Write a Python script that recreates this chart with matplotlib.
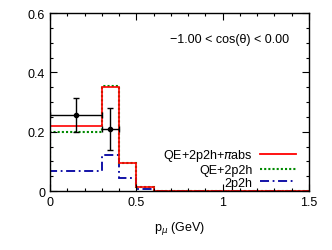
import matplotlib
matplotlib.use("Agg")
import matplotlib.pyplot as plt
from matplotlib.ticker import MultipleLocator
from matplotlib.lines import Line2D

edges = [0.0, 0.3, 0.4, 0.5, 0.6, 1.5]
qe_2p2h_piabs = [0.218, 0.350, 0.093, 0.012, 0.0]
qe_2p2h = [0.198, 0.354, 0.095, 0.013, 0.0]
only_2p2h = [0.068, 0.121, 0.044, 0.006, 0.0]

data_x = [0.15, 0.35]
data_y = [0.257, 0.209]
data_xerr = [0.15, 0.05]
data_yerr = [0.058, 0.070]

plt.rcParams['font.family'] = ['Liberation Sans', 'DejaVu Sans']
fig = plt.figure(figsize=(3.32, 2.51), dpi=100)
ax = fig.add_axes([0.1506, 0.235, 0.780, 0.709])

red, green, blue = '#ff0000', '#008a00', '#0000a0'
dashdot = (0, (5, 2, 1, 2))

ax.stairs(only_2p2h, edges, color=blue, lw=1.3, ls=dashdot)
ax.stairs(qe_2p2h, edges, color=green, lw=1.5, ls=(0, (1, 1)))
ax.stairs(qe_2p2h_piabs, edges, color=red, lw=1.2)
ax.errorbar(data_x, data_y, xerr=data_xerr, yerr=data_yerr, fmt='o', color='black',
            ms=3, lw=1.0, capsize=2, capthick=1.0, zorder=5)

ax.set_xlim(0, 1.5)
ax.set_ylim(0, 0.6)
ax.xaxis.set_minor_locator(MultipleLocator(0.1))
ax.yaxis.set_minor_locator(MultipleLocator(0.05))
ax.set_xticks([0, 0.5, 1, 1.5])
ax.set_xticklabels(['0', '0.5', '1', '1.5'])
ax.set_yticks([0, 0.2, 0.4, 0.6])
ax.set_yticklabels(['0', '0.2', '0.4', '0.6'])
ax.tick_params(which='both', direction='in', top=True, right=True, labelsize=9)
ax.tick_params(which='major', length=5, width=0.8)
ax.tick_params(which='minor', length=2.5, width=0.8)
for s in ax.spines.values():
    s.set_linewidth(1.0)

ax.set_xlabel(r'p$_{\mu}$ (GeV)', fontsize=9, labelpad=8)
ax.text(0.923, 0.854, '\u22121.00 < cos(\u03b8) < 0.00', transform=ax.transAxes,
        ha='right', va='center', fontsize=9)

handles = [Line2D([], [], color=red, lw=1.3),
           Line2D([], [], color=green, lw=1.5, ls=(0, (1, 1))),
           Line2D([], [], color=blue, lw=1.3, ls=dashdot)]
labels = [r'QE+2p2h+$\pi$abs', 'QE+2p2h', '2p2h']
ax.legend(handles, labels, loc='lower right', bbox_to_anchor=(0.97, -0.015), frameon=False,
          markerfirst=False, fontsize=9, handlelength=2.9, handletextpad=0.6,
          labelspacing=0.05, borderaxespad=0.0)

fig.savefig('out.png', dpi=100)
